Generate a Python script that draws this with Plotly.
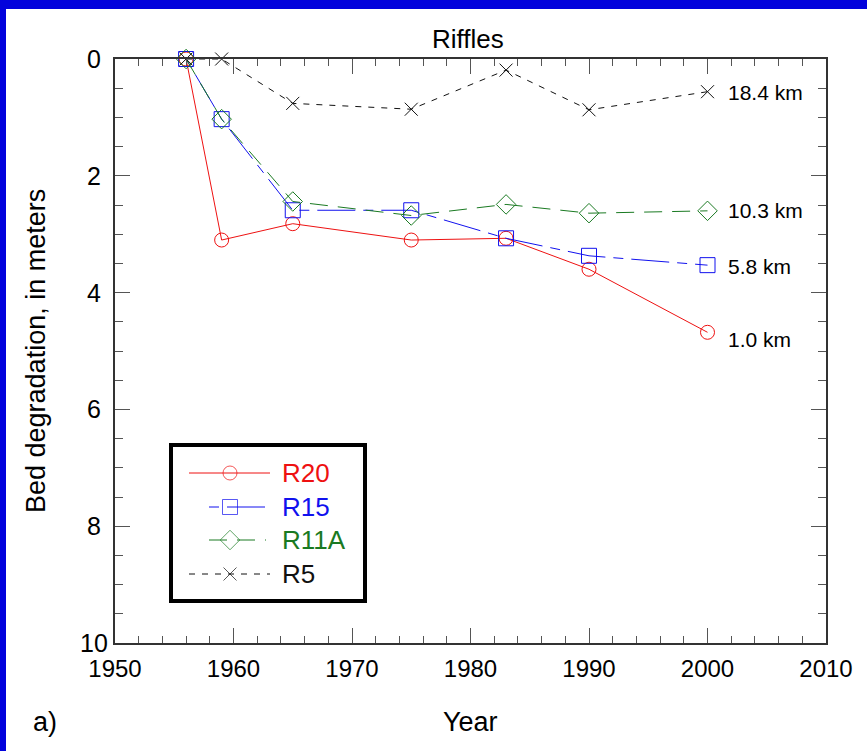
import plotly.graph_objects as go

# ---------------- data ----------------
years = [1956, 1959, 1965, 1975, 1983, 1990, 2000]
r20 = [0.00, 3.10, 2.82, 3.10, 3.07, 3.60, 4.68]
r15 = [0.00, 1.03, 2.59, 2.59, 3.07, 3.37, 3.53]
r11a = [0.00, 1.03, 2.44, 2.68, 2.49, 2.64, 2.60]
r5 = [0.00, 0.00, 0.76, 0.86, 0.19, 0.87, 0.56]

series_names = ["R20", "R15", "R11A", "R5"]
site_labels = ["1.0 km", "5.8 km", "10.3 km", "18.4 km"]
x_ticks = [1950, 1960, 1970, 1980, 1990, 2000, 2010]
y_ticks = [0, 2, 4, 6, 8, 10]

# ---------------- styles ----------------
W, H = 867, 751
ML, MR, MT, MB = 115, 41, 59, 108
PW, PH = W - ML - MR, H - MT - MB

RED = "#EE1111"
BLUE = "#1111EE"
GREEN = "#1A7A22"
BLACK = "#111111"
FONT = "Liberation Sans, Arial, sans-serif"

styles = [
    dict(color=RED, dash="solid", symbol="circle-open", size=14),
    dict(color=BLUE, dash="10px,8px,38px,8px", symbol="square-open", size=15),
    dict(color=GREEN, dash="18px,10px", symbol="diamond-open", size=15),
    dict(color=BLACK, dash="6px,7px", symbol="x-thin-open", size=13),
]
values = [r20, r15, r11a, r5]


def px_x(p):
    return (p - ML) / PW


def px_y(p):
    return (H - MB - p) / PH


fig = go.Figure()

for name, vals, st in zip(series_names, values, styles):
    fig.add_trace(go.Scatter(
        x=years, y=vals, name=name, mode="lines+markers",
        line=dict(color=st["color"], width=1, dash=st["dash"]),
        marker=dict(symbol=st["symbol"], size=st["size"], color=st["color"],
                    line=dict(color=st["color"], width=1)),
        cliponaxis=False, showlegend=False,
    ))

# ---------------- custom legend (hidden axis in px space) ----------------
LX0, LX1, LY0, LY1 = 169, 367, 443, 603
leg_rows = [473, 507, 540, 574]
leg_spans = [(189, 270), (209, 266), (209, 266), (189, 270)]
for name, st, ry, (a, b) in zip(series_names, styles, leg_rows, leg_spans):
    fig.add_trace(go.Scatter(
        x=[a, 230, b], y=[ry, ry, ry], mode="lines+markers",
        xaxis="x2", yaxis="y2", showlegend=False, hoverinfo="skip",
        line=dict(color=st["color"], width=1, dash=st["dash"]),
        marker=dict(symbol=st["symbol"], size=[0, st["size"], 0], color=st["color"],
                    line=dict(color=st["color"], width=1)),
    ))
    fig.add_annotation(xref="x2", yref="y2", x=280, y=ry, text=name, showarrow=False,
                       xanchor="left", yanchor="middle",
                       font=dict(family=FONT, size=26, color=st["color"]))

# site labels at end of each series
shifts = [-7, -1, 0, -1]
for lab, vals, sh in zip(site_labels, values, shifts):
    fig.add_annotation(x=2001.6, y=vals[-1], text=lab, showarrow=False,
                       xanchor="left", yanchor="middle", yshift=sh,
                       font=dict(family=FONT, size=21, color="black"))

# y tick labels (centre-aligned, as in the original)
for v in y_ticks:
    fig.add_annotation(xref="paper", yref="y", x=px_x(94), y=v, text=str(v),
                       showarrow=False, xanchor="center", yanchor="middle",
                       font=dict(family=FONT, size=25, color="black"))

# ---------------- background / frame ----------------
shapes = [
    dict(type="rect", xref="paper", yref="paper", layer="below",
         x0=px_x(6), x1=px_x(W + 5), y0=px_y(H + 5), y1=px_y(9),
         fillcolor="white", line=dict(width=0)),
    dict(type="rect", xref="paper", yref="paper",
         x0=px_x(LX0 + 2), x1=px_x(LX1 - 2), y0=px_y(LY1 - 2), y1=px_y(LY0 + 2),
         fillcolor="rgba(0,0,0,0)", line=dict(color="black", width=4)),
]

# text annotations
fig.add_annotation(xref="paper", yref="paper", x=px_x(468), y=px_y(39), text="Riffles",
                   showarrow=False, xanchor="center", yanchor="middle",
                   font=dict(family=FONT, size=26, color="black"))
fig.add_annotation(xref="paper", yref="paper", x=px_x(470), y=px_y(722), text="Year",
                   showarrow=False, xanchor="center", yanchor="middle",
                   font=dict(family=FONT, size=27, color="black"))
fig.add_annotation(xref="paper", yref="paper", x=px_x(36), y=px_y(351),
                   text="Bed degradation, in meters", textangle=-90,
                   showarrow=False, xanchor="center", yanchor="middle",
                   font=dict(family=FONT, size=27, color="black"))
fig.add_annotation(xref="paper", yref="paper", x=px_x(31), y=px_y(722), text="a)",
                   showarrow=False, xanchor="left", yanchor="middle",
                   font=dict(family=FONT, size=27, color="black"))

axis_common = dict(showline=True, linecolor="#333333", linewidth=1.5, mirror="ticks",
                   ticks="inside", tickcolor="#555555", tickwidth=1, ticklen=15,
                   showgrid=False, zeroline=False)

fig.update_layout(
    width=W, height=H,
    margin=dict(l=ML, r=MR, t=MT, b=MB, pad=0),
    paper_bgcolor="#0202DC", plot_bgcolor="white",
    shapes=shapes,
    showlegend=False,
    xaxis=dict(range=[1950, 2010], tickvals=x_ticks, ticktext=[str(v) for v in x_ticks],
               minor=dict(dtick=2, ticklen=7, ticks="inside", tickcolor="#555555", tickwidth=1),
               ticklabelstandoff=3,
               tickfont=dict(family=FONT, size=24, color="black"),
               **axis_common),
    yaxis=dict(range=[10, 0], tickvals=y_ticks, showticklabels=False,
               minor=dict(dtick=0.5, ticklen=8, ticks="inside", tickcolor="#555555", tickwidth=1),
               **axis_common),
    xaxis2=dict(domain=[px_x(LX0), px_x(LX1)], range=[LX0, LX1], visible=False,
                anchor="y2", fixedrange=True),
    yaxis2=dict(domain=[px_y(LY1), px_y(LY0)], range=[LY1, LY0], visible=False,
                anchor="x2", fixedrange=True),
)

fig.write_html("out.html")
